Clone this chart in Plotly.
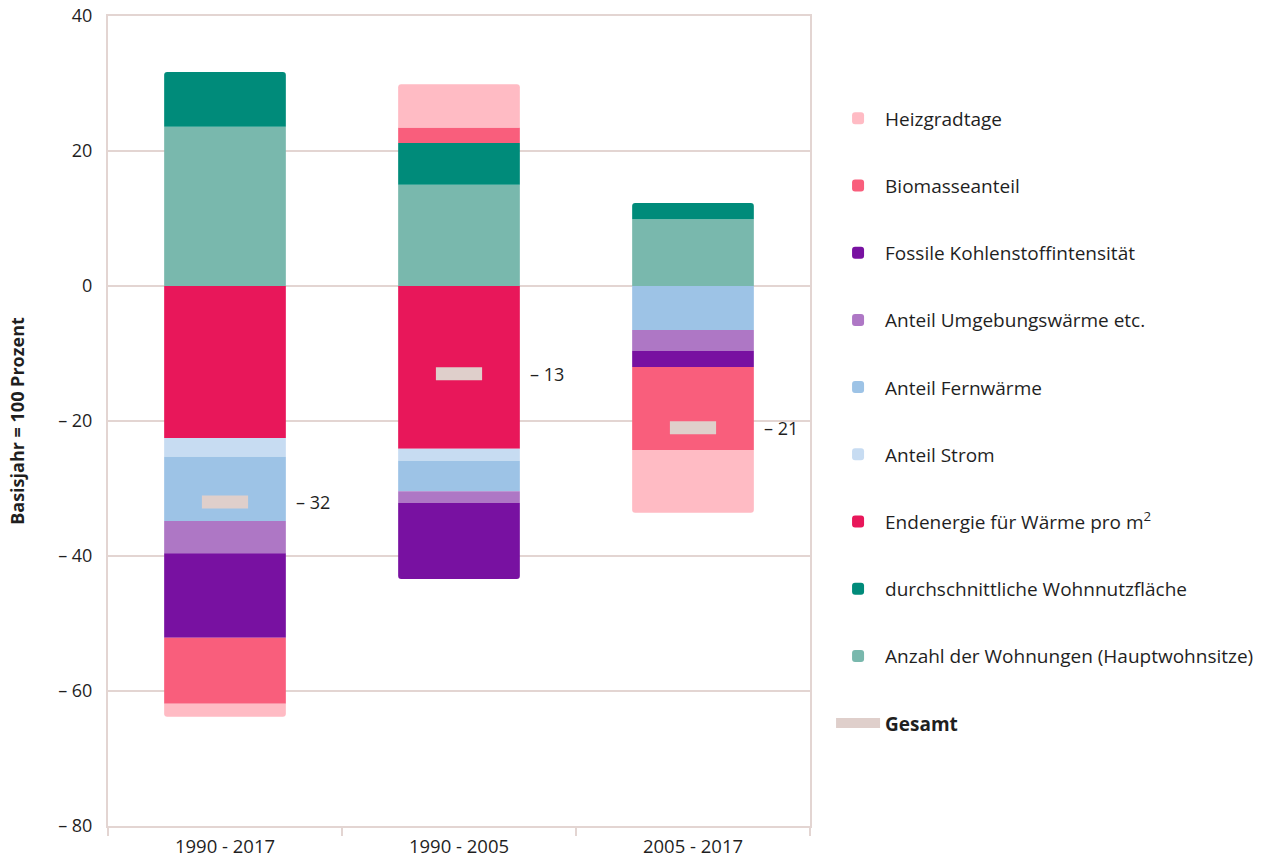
import plotly.graph_objects as go

categories = ["1990 - 2017", "1990 - 2005", "2005 - 2017"]

anzahl = [23.6, 15.0, 9.9]
wohnflaeche = [8.1, 6.2, 2.4]
endenergie = [-22.5, -24.1, 0]
strom = [-2.8, -1.8, 0]
fernwaerme = [-9.5, -4.5, -6.5]
umgebung = [-4.8, -1.7, -3.1]
fossile = [-12.5, -11.3, -2.4]
biomasse = [-9.8, 2.3, -12.3]
heizgradtage = [-1.9, 6.4, -9.3]
gesamt = [-32, -13, -21]
gesamt_labels = ["– 32", "– 13", "– 21"]

yticks = [40, 20, 0, -20, -40, -60, -80]
yticktext = ["40", "20", "0", "– 20", "– 40", "– 60", "– 80"]

series = [
    ("Anzahl der Wohnungen (Hauptwohnsitze)", anzahl, "#79b8ad"),
    ("durchschnittliche Wohnnutzfläche", wohnflaeche, "#008b7a"),
    ("Endenergie für Wärme pro m<sup>2</sup>", endenergie, "#e8175a"),
    ("Anteil Strom", strom, "#c7dcf2"),
    ("Anteil Fernwärme", fernwaerme, "#9dc3e6"),
    ("Anteil Umgebungswärme etc.", umgebung, "#ae77c5"),
    ("Fossile Kohlenstoffintensität", fossile, "#7811a1"),
    ("Biomasseanteil", biomasse, "#f95e7c"),
    ("Heizgradtage", heizgradtage, "#ffbbc4"),
]

FONT = "Open Sans"
GRID = "#e3d5d2"
TXT = "#1f1f1f"

fig = go.Figure()
n = len(series)
for i, (name, vals, col) in enumerate(series):
    fig.add_trace(go.Bar(
        x=categories, y=vals, name=name, marker_color=col,
        marker_line_width=0, width=0.52,
        legendgroup=name, legendrank=100 + (n - i),
    ))

fig.add_trace(go.Scatter(
    x=categories, y=gesamt, mode="markers", showlegend=False,
    marker=dict(symbol="line-ew", size=33, line=dict(width=13, color="#dfcfcb")),
    hoverinfo="y",
))
fig.add_trace(go.Scatter(
    x=[None], y=[None], mode="lines", name="<b>Gesamt</b>",
    line=dict(width=12, color="#dfcfcb"), legendgroup="gesamt", legendrank=200,
))

for c, v, t in zip(categories, gesamt, gesamt_labels):
    fig.add_annotation(x=c, y=v, text=t, showarrow=False, xanchor="left",
                       xshift=69, font=dict(size=18, color=TXT, family=FONT))

fig.update_layout(
    barmode="relative",
    barcornerradius=3,
    width=1268, height=859,
    margin=dict(l=108, r=458, t=16, b=33, autoexpand=False),
    plot_bgcolor="white", paper_bgcolor="white",
    font=dict(family=FONT, size=18, color=TXT),
    legend=dict(
        x=1.030, y=0.897, xanchor="left", yanchor="top",
        itemwidth=44, tracegroupgap=39.5,
        font=dict(size=19, family=FONT, color=TXT),
        bgcolor="rgba(0,0,0,0)",
    ),
    showlegend=True,
)
fig.update_xaxes(
    type="category", showline=True, linecolor=GRID, linewidth=2, mirror=True,
    ticks="outside", tickson="boundaries", ticklen=8, tickcolor=GRID, tickwidth=2,
    ticklabelstandoff=3,
    showgrid=False, tickfont=dict(size=18.5, family=FONT, color=TXT),
)
fig.update_yaxes(
    range=[-80, 40], tickvals=yticks, ticktext=yticktext,
    showgrid=True, gridcolor=GRID, gridwidth=2, zeroline=False,
    showline=True, linecolor=GRID, linewidth=2, mirror=True,
    ticks="", ticklabelstandoff=10, ticklabeloverflow="allow",
    tickfont=dict(size=18, family=FONT, color=TXT),
    title=dict(text="<b>Basisjahr = 100 Prozent</b>", font=dict(size=18, family=FONT, color=TXT), standoff=29),
)

fig.write_html("out.html", config={"displayModeBar": False},
               post_script="document.body.style.margin='0';")
